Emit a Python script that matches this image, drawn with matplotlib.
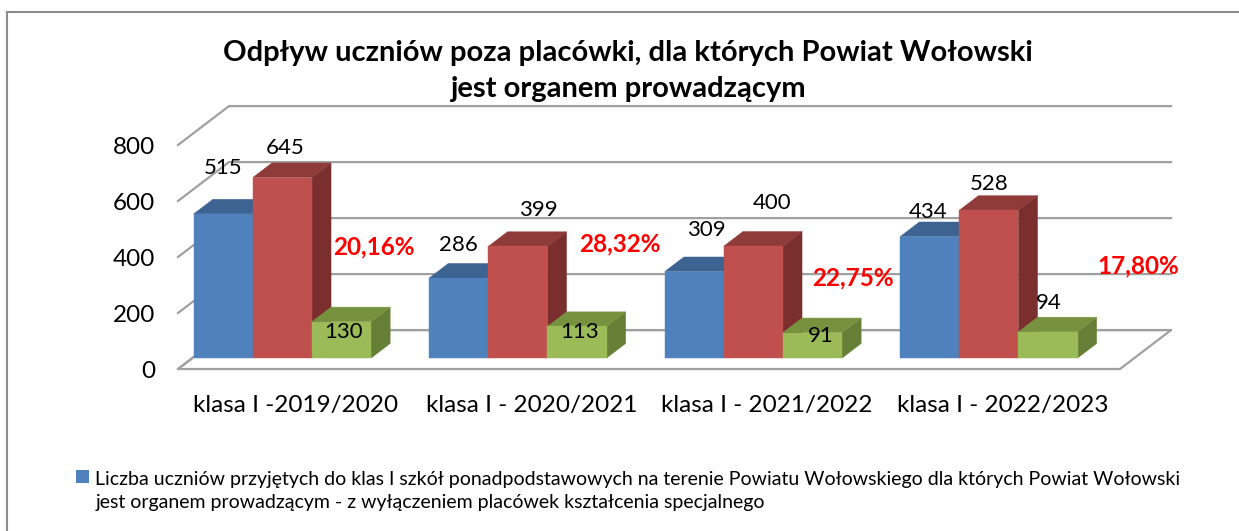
import matplotlib.pyplot as plt
from matplotlib.patches import Polygon, Patch, Rectangle
from matplotlib.lines import Line2D
from matplotlib.legend_handler import HandlerPatch

plt.rcParams['font.family'] = ['Lato', 'DejaVu Sans']

categories = ['klasa I -2019/2020', 'klasa I - 2020/2021', 'klasa I - 2021/2022', 'klasa I - 2022/2023']
przyjeci = [515, 286, 309, 434]
razem = [645, 399, 400, 528]
odplyw = [130, 113, 91, 94]
procent = ['20,16%', '28,32%', '22,75%', '17,80%']
yticks = [0, 200, 400, 600, 800]
title = 'Odpływ uczniów poza placówki, dla których Powiat Wołowski\njest organem prowadzącym'
legend_label = ('Liczba uczniów przyjętych do klas I szkół ponadpodstawowych na terenie Powiatu Wołowskiego dla których Powiat Wołowski\n'
                'jest organem prowadzącym - z wyłączeniem placówek kształcenia specjalnego')

# face colours: front, top, side
colors = [('#4F81BD', '#3D6393', '#34557E'),
          ('#C0504D', '#8F3B39', '#7A2F2E'),
          ('#9BBB59', '#77923F', '#667F37')]

# fake 3d: depth shift of the back wall in data units
DX, DY = 0.2166, 139.0
D0, D1 = 0.28, 0.655
BAR_W, OFF = 0.251, 0.006


def proj(x, y, d):
    return (x + d * DX, y + d * DY)


def top_square(legend, orig_handle, xdescent, ydescent, width, height, fontsize):
    # put the legend square next to the first line of the wrapped label
    return Rectangle((-xdescent, -ydescent + 0.75 * fontsize), width, height)


W, H = 1239, 531
fig = plt.figure(figsize=(W / 100, H / 100), dpi=100)
ax = fig.add_axes([178 / W, 1 - 369 / H, 942 / W, 224 / H])
ax.set_xlim(0, len(categories))
ax.set_ylim(0, 800)
for s in ax.spines.values():
    s.set_visible(False)
ax.patch.set_alpha(0)

# floor
n = len(categories)
floor = [proj(0, 0, 0), proj(n, 0, 0), proj(n, 0, 1), proj(0, 0, 1)]
ax.add_patch(Polygon(floor, closed=True, facecolor='white', edgecolor='#a0a0a0',
                     lw=1.6, clip_on=False, zorder=1))
# back wall grid
for v in yticks:
    xs, ys = zip(proj(0, v, 0), proj(0, v, 1), proj(n, v, 1))
    ax.plot(xs, ys, color='#a0a0a0', lw=1.6, clip_on=False, zorder=1)

# bars
z = 2
for i in range(n):
    for j, vals in enumerate([przyjeci, razem, odplyw]):
        v = vals[i]
        x0 = i + OFF + j * BAR_W
        x1 = x0 + BAR_W
        fc, tc, sc = colors[j]
        front = [proj(x0, 0, D0), proj(x1, 0, D0), proj(x1, v, D0), proj(x0, v, D0)]
        top = [proj(x0, v, D0), proj(x1, v, D0), proj(x1, v, D1), proj(x0, v, D1)]
        side = [proj(x1, 0, D0), proj(x1, 0, D1), proj(x1, v, D1), proj(x1, v, D0)]
        for pts, c in [(side, sc), (top, tc), (front, fc)]:
            ax.add_patch(Polygon(pts, closed=True, facecolor=c, edgecolor=c, lw=0.3,
                                 clip_on=False, zorder=z))
        z += 1

# value labels (offsets in px from front-top centre, as Excel placed them)
label_off = [[(0, 46), (3, 30), (2, -10)],
             [(0, 33), (20, 36), (3, -6)],
             [(12, 42), (19, 43), (8, -3)],
             [(-2, 25), (0, 26), (1, 29)]]
for i in range(n):
    for j, vals in enumerate([przyjeci, razem, odplyw]):
        v = vals[i]
        xc = i + OFF + j * BAR_W + BAR_W / 2
        dx, dy = label_off[i][j]
        ax.annotate(str(v), xy=proj(xc, v, D0), xytext=(dx * 0.72, dy * 0.72),
                    textcoords='offset points', ha='center', va='center',
                    fontsize=16, color='black', zorder=50, annotation_clip=False)

pct_off = [(-40, 122), (-29, 125), (-32, 91), (18, 103)]
for i in range(n):
    dx, dy = pct_off[i]
    ax.annotate(procent[i], xy=(i + 1, 0), xytext=(dx * 0.72, dy * 0.72),
                textcoords='offset points', ha='center', va='center',
                fontsize=17.5, fontweight='bold', color='#FF0000', zorder=50,
                annotation_clip=False)

ax.set_yticks(yticks)
ax.set_yticklabels([str(t) for t in yticks], fontsize=17.5)
ax.set_xticks([i + 0.5 for i in range(n)])
ax.set_xticklabels(categories, fontsize=17.5)
ax.tick_params(length=0)
ax.tick_params(axis='y', pad=16.5)
ax.tick_params(axis='x', pad=19)

fig.text(628 / W, 1 - 40 / H, title, ha='center', va='top', fontsize=21,
         fontweight='bold', linespacing=1.5)

leg = fig.legend(handles=[Patch(facecolor='#4F81BD')], labels=[legend_label],
                 loc='upper left', bbox_to_anchor=(76 / W, 1 - 471 / H), frameon=False,
                 fontsize=14, handlelength=0.65, handleheight=0.65, handletextpad=0.35,
                 borderpad=0, borderaxespad=0,
                 handler_map={Patch: HandlerPatch(patch_func=top_square)})
leg.get_texts()[0].set_linespacing(1.45)

# chart frame (right and bottom edges fall outside the picture)
fig.add_artist(Line2D([7 / W, 1], [1 - 12 / H] * 2, color='#8c8c8c', lw=1.5))
fig.add_artist(Line2D([7 / W] * 2, [0, 1 - 12 / H], color='#8c8c8c', lw=1.5))

fig.savefig('out.png', dpi=100)
